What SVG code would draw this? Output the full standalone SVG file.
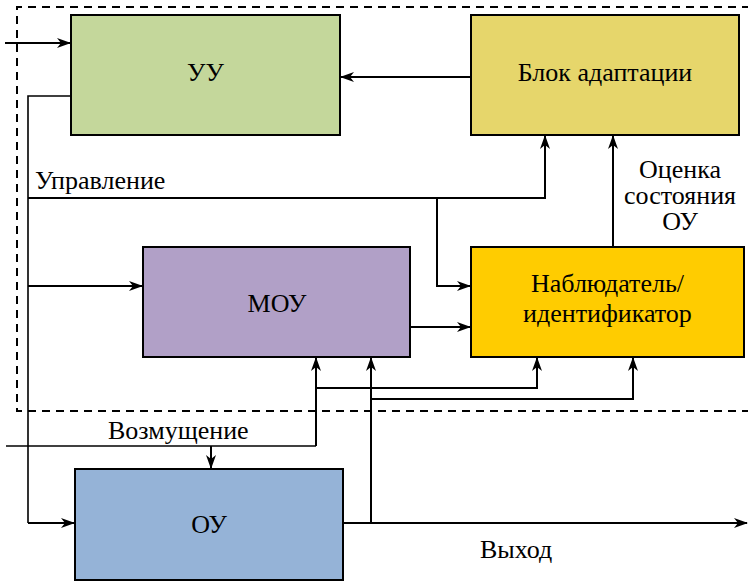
<svg xmlns="http://www.w3.org/2000/svg" width="748" height="582" viewBox="0 0 748 582" font-family="Liberation Serif, serif" font-size="26">
  <style>
    text { font-family: "Liberation Serif", serif; font-size: 26px; fill: #000; }
    .box { stroke: #000; stroke-width: 2; }
    .ln { fill: none; stroke: #000; stroke-width: 2; }
    .thin { fill: none; stroke: #000; stroke-width: 1.6; }
    .arr { marker-end: url(#ah); }
  </style>
  <defs>
    <marker id="ah" markerWidth="14" markerHeight="10" refX="13" refY="5" orient="auto" markerUnits="userSpaceOnUse">
      <path d="M0,0 L14,5 L0,10 L4,5 Z" fill="#000"/>
    </marker>
  </defs>
  <rect width="748" height="582" fill="#fff"/>

  <!-- system boundary -->
  <path d="M750,7 H17 V411 H750" fill="none" stroke="#000" stroke-width="2" stroke-dasharray="8,6"/>

  <g id="uu">
    <rect class="box" x="71" y="15" width="269" height="120" fill="#c4d79b"/>
    <text font-family="Liberation Serif, serif" text-anchor="middle" x="205.5" y="81">УУ</text>
  </g>
  <g id="adapt">
    <rect class="box" x="471" y="15" width="268" height="120" fill="#e6d66b"/>
    <text font-family="Liberation Serif, serif" text-anchor="middle" x="605" y="81">Блок адаптации</text>
  </g>
  <g id="mou">
    <rect class="box" x="143" y="247" width="267" height="110" fill="#b1a0c7"/>
    <text font-family="Liberation Serif, serif" text-anchor="middle" x="277" y="312">МОУ</text>
  </g>
  <g id="observer">
    <rect class="box" x="471" y="247" width="273" height="110" fill="#ffcc00"/>
    <text font-family="Liberation Serif, serif" text-anchor="middle" x="607.5" y="292">Наблюдатель/</text>
    <text font-family="Liberation Serif, serif" text-anchor="middle" x="607.5" y="322">идентификатор</text>
  </g>
  <g id="ou">
    <rect class="box" x="75" y="469" width="268" height="111" fill="#95b3d7"/>
    <text font-family="Liberation Serif, serif" text-anchor="middle" x="209" y="533">ОУ</text>
  </g>

  <g id="connectors">
    <!-- input to УУ -->
    <path class="ln arr" d="M5,43 H70"/>
    <!-- adaptation to УУ -->
    <path class="ln arr" d="M471,77 H341"/>
    <!-- control signal bus -->
    <path class="thin" d="M71,96 H28 V523"/>
    <path class="ln arr" d="M28,523 H74"/>
    <path class="ln arr" d="M28,286 H142"/>
    <path class="ln arr" d="M28,198 H545 V136"/>
    <path class="ln arr" d="M437,198 V286 H470"/>
    <!-- state estimate -->
    <path class="ln arr" d="M613,247 V136"/>
    <!-- model output -->
    <path class="ln arr" d="M410,327 H470"/>
    <!-- disturbance -->
    <path class="thin" d="M6,446 H316"/>
    <path class="ln arr" d="M211,446 V468"/>
    <path class="ln arr" d="M316,446 V358"/>
    <path class="ln arr" d="M316,388 H537 V358"/>
    <!-- plant output -->
    <path class="ln arr" d="M343,523 H747"/>
    <path class="ln arr" d="M371,523 V358"/>
    <path class="ln arr" d="M371,399 H633 V358"/>
  </g>

  <g id="labels">
    <text font-family="Liberation Serif, serif" x="35" y="189">Управление</text>
    <text font-family="Liberation Serif, serif" text-anchor="middle" x="680" y="178">Оценка</text>
    <text font-family="Liberation Serif, serif" text-anchor="middle" x="680" y="204">состояния</text>
    <text font-family="Liberation Serif, serif" text-anchor="middle" x="680" y="230">ОУ</text>
    <text font-family="Liberation Serif, serif" x="108" y="439">Возмущение</text>
    <text font-family="Liberation Serif, serif" x="480" y="558">Выход</text>
  </g>
</svg>
